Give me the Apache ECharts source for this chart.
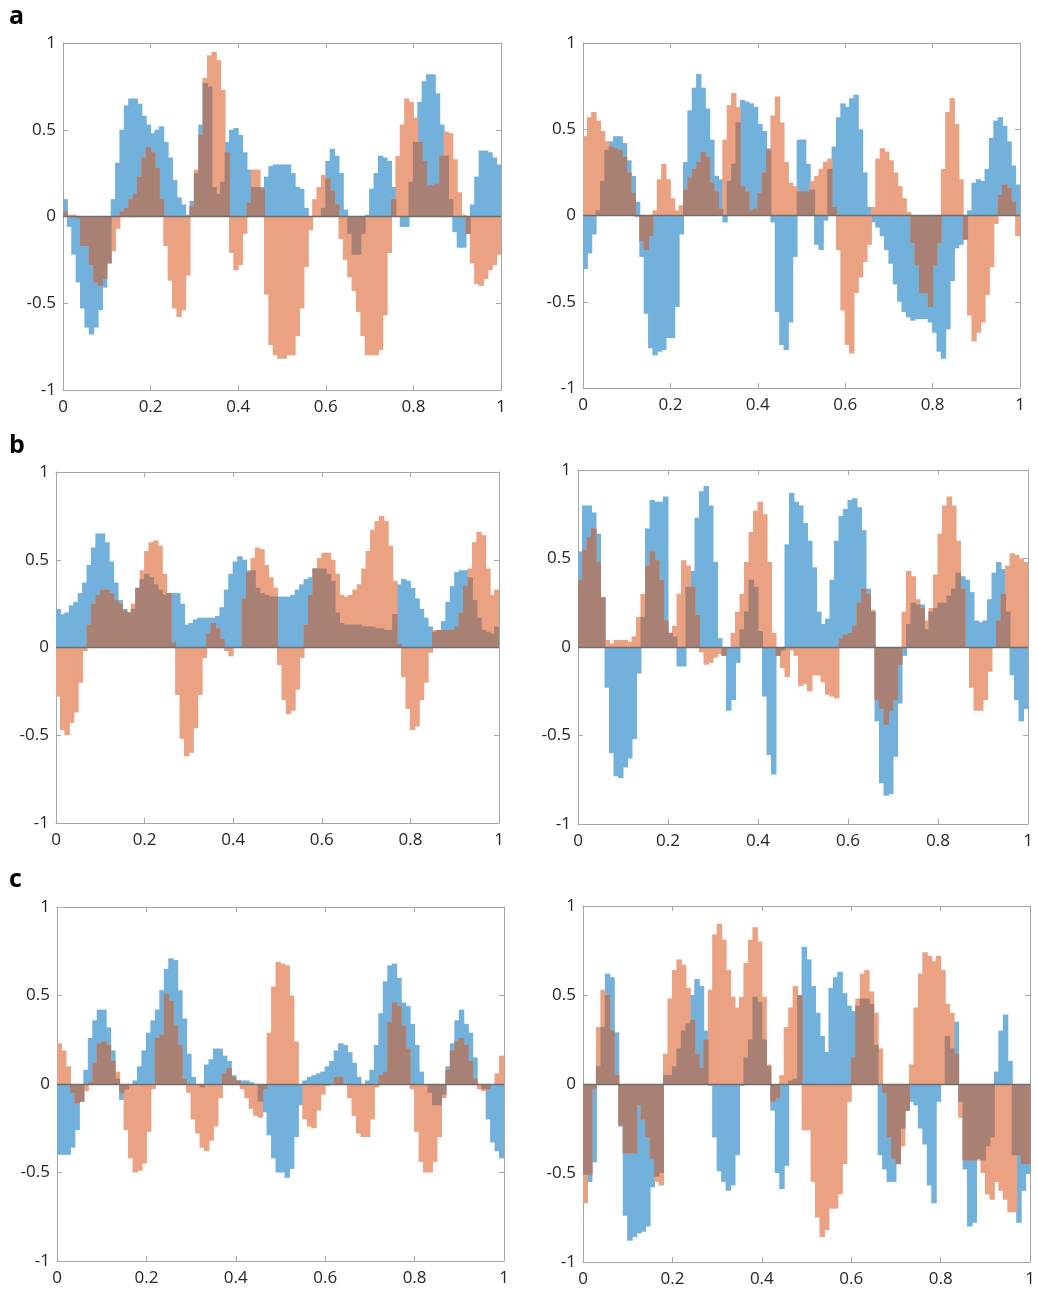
<!DOCTYPE html>
<html>
<head>
<meta charset="utf-8">
<script src="https://cdn.jsdelivr.net/npm/echarts@6/dist/echarts.min.js"></script>
<style>
html,body{margin:0;padding:0;background:#fff;}
#chart{width:1038px;height:1297px;}
</style>
</head>
<body>
<div id="chart"></div>
<script>
// ---------------- DATA ----------------
const binCount = 100;
const xTickLabels = ['0', '0.2', '0.4', '0.6', '0.8', '1'];
const yTickLabels = ['-1', '-0.5', '0', '0.5', '1'];
const panelLetters = ['a', 'b', 'c'];

const aLeftBlue = [0.10,-0.06,-0.22,-0.38,-0.53,-0.64,-0.68,-0.64,-0.54,-0.41,
-0.27,0.10,0.31,0.50,0.64,0.68,0.68,0.65,0.58,0.53,
0.48,0.50,0.52,0.43,0.34,0.21,0.11,0.07,0.01,0.09,
0.25,0.53,0.77,0.75,0.17,0.13,0.20,0.43,0.50,0.51,
0.47,0.37,0.27,0.17,0.17,0.17,0.23,0.29,0.30,0.30,
0.30,0.30,0.25,0.17,0.16,0.05,0.00,0.00,0.00,0.05,
0.32,0.39,0.35,0.25,0.04,-0.10,-0.22,-0.22,-0.10,0.01,
0.16,0.25,0.35,0.34,0.32,0.17,0.00,-0.06,-0.06,0.20,
0.43,0.66,0.78,0.82,0.82,0.71,0.53,0.35,0.10,-0.09,
-0.18,-0.18,-0.10,0.07,0.23,0.38,0.38,0.37,0.34,0.30];
const aLeftOrange = [0.03,0.01,0.01,-0.01,-0.17,-0.17,-0.28,-0.38,-0.40,-0.36,
-0.27,-0.20,-0.07,0.03,0.05,0.10,0.13,0.23,0.34,0.40,
0.37,0.28,0.10,-0.17,-0.37,-0.53,-0.58,-0.54,-0.34,0.06,
0.27,0.47,0.80,0.93,0.95,0.90,0.73,0.37,-0.21,-0.31,
-0.28,-0.10,0.08,0.27,0.27,0.16,-0.45,-0.74,-0.80,-0.82,
-0.82,-0.80,-0.80,-0.69,-0.53,-0.29,-0.08,0.10,0.17,0.24,
0.22,0.15,0.07,-0.13,-0.25,-0.35,-0.43,-0.55,-0.69,-0.80,
-0.80,-0.80,-0.77,-0.57,-0.21,0.10,0.35,0.53,0.68,0.66,
0.57,0.43,0.32,0.18,0.18,0.19,0.35,0.49,0.48,0.33,
0.14,0.01,-0.10,-0.27,-0.39,-0.40,-0.36,-0.31,-0.28,-0.22];

const aRightBlue = [-0.31,-0.22,-0.11,0.03,0.20,0.38,0.43,0.46,0.46,0.42,
0.32,0.23,0.08,-0.24,-0.57,-0.77,-0.81,-0.79,-0.78,-0.71,
-0.71,-0.53,-0.11,0.31,0.61,0.74,0.82,0.74,0.62,0.44,
0.23,0.21,-0.04,0.20,0.30,0.54,0.67,0.66,0.65,0.63,
0.53,0.49,0.39,-0.04,-0.56,-0.75,-0.78,-0.62,-0.24,0.44,
0.44,0.30,0.15,-0.17,-0.20,-0.03,0.27,0.40,0.57,0.65,
0.63,0.68,0.70,0.50,0.25,0.05,-0.04,-0.07,-0.12,-0.20,
-0.28,-0.40,-0.50,-0.56,-0.59,-0.61,-0.60,-0.60,-0.60,-0.62,
-0.68,-0.79,-0.83,-0.66,-0.38,-0.19,-0.17,-0.14,0.03,0.19,
0.21,0.20,0.27,0.45,0.55,0.57,0.52,0.43,0.29,0.18];
const aRightOrange = [0.46,0.57,0.60,0.55,0.49,0.43,0.40,0.39,0.38,0.34,
0.25,0.13,-0.01,-0.15,-0.20,-0.12,0.03,0.21,0.30,0.21,
0.10,0.03,0.06,0.15,0.22,0.27,0.31,0.37,0.34,0.19,
0.14,0.04,0.44,0.64,0.71,0.63,0.17,0.14,0.03,0.04,
0.13,0.25,0.38,0.58,0.69,0.54,0.31,0.19,0.17,0.14,
0.14,0.14,0.20,0.23,0.27,0.31,0.33,0.05,-0.20,-0.55,
-0.75,-0.80,-0.45,-0.36,-0.27,-0.17,0.05,0.33,0.39,0.37,
0.32,0.25,0.17,0.10,0.02,-0.16,-0.29,-0.45,-0.45,-0.53,
-0.29,-0.16,0.27,0.60,0.68,0.53,0.21,-0.14,-0.58,-0.73,
-0.68,-0.62,-0.46,-0.30,-0.05,0.12,0.18,0.16,0.08,-0.12];

const bLeftBlue = [0.22,0.19,0.20,0.24,0.26,0.31,0.37,0.47,0.57,0.65,
0.65,0.60,0.49,0.37,0.27,0.22,0.20,0.22,0.34,0.39,
0.42,0.40,0.36,0.33,0.30,0.31,0.31,0.31,0.25,0.13,
0.14,0.16,0.17,0.17,0.17,0.17,0.18,0.23,0.33,0.42,
0.49,0.52,0.50,0.44,0.44,0.34,0.31,0.30,0.29,0.29,
0.29,0.29,0.29,0.30,0.33,0.36,0.39,0.40,0.45,0.45,
0.45,0.42,0.38,0.20,0.14,0.13,0.13,0.13,0.13,0.12,
0.12,0.12,0.11,0.11,0.10,0.10,0.19,0.36,0.39,0.38,
0.34,0.28,0.22,0.17,0.12,0.09,0.10,0.15,0.26,0.35,
0.43,0.44,0.44,0.40,0.27,0.17,0.10,0.09,0.08,0.12];
const bLeftOrange = [-0.28,-0.47,-0.50,-0.43,-0.37,-0.20,-0.02,0.13,0.25,0.30,
0.33,0.33,0.31,0.27,0.25,0.21,0.20,0.25,0.34,0.44,
0.55,0.60,0.61,0.58,0.42,0.31,0.03,-0.27,-0.52,-0.62,
-0.60,-0.46,-0.27,-0.06,0.08,0.14,0.11,0.05,-0.02,-0.05,
0.00,0.00,0.28,0.43,0.51,0.57,0.56,0.47,0.40,0.34,
-0.10,-0.30,-0.38,-0.36,-0.24,-0.06,0.13,0.30,0.45,0.51,
0.54,0.54,0.50,0.42,0.30,0.29,0.30,0.33,0.36,0.45,
0.55,0.67,0.72,0.75,0.72,0.58,0.38,0.02,-0.17,-0.35,
-0.47,-0.45,-0.30,-0.20,-0.03,0.10,0.10,0.10,0.10,0.10,
0.12,0.20,0.35,0.45,0.60,0.66,0.64,0.45,0.30,0.33];

const bRightBlue = [0.54,0.80,0.80,0.76,0.64,0.28,-0.23,-0.60,-0.73,-0.74,
-0.68,-0.63,-0.52,-0.15,0.17,0.67,0.83,0.82,0.82,0.85,
0.08,0.06,-0.11,-0.11,0.34,0.43,0.73,0.88,0.91,0.80,
0.48,0.05,-0.05,-0.36,-0.30,-0.09,0.10,0.20,0.38,0.34,
0.09,-0.28,-0.61,-0.72,-0.05,-0.02,0.58,0.87,0.82,0.80,
0.70,0.60,0.45,0.20,0.13,0.16,0.38,0.60,0.74,0.78,
0.83,0.84,0.79,0.66,0.33,0.20,-0.42,-0.77,-0.84,-0.83,
-0.62,-0.32,-0.05,0.13,0.25,0.24,0.24,0.10,0.20,0.22,
0.25,0.25,0.29,0.33,0.42,0.40,0.38,0.31,0.15,0.14,
0.15,0.27,0.42,0.48,0.44,0.20,-0.16,-0.30,-0.42,-0.35];
const bRightOrange = [0.38,0.55,0.62,0.67,0.48,0.28,0.04,0.02,0.04,0.04,
0.04,0.03,0.06,0.17,0.30,0.46,0.54,0.49,0.38,0.15,
0.08,0.12,0.30,0.49,0.46,0.34,0.18,-0.03,-0.10,-0.09,
-0.06,-0.04,-0.05,0.00,0.08,0.20,0.30,0.48,0.65,0.77,
0.82,0.75,0.48,0.08,-0.05,-0.12,-0.17,-0.02,-0.05,-0.22,
-0.21,-0.25,-0.16,-0.16,-0.20,-0.27,-0.28,-0.29,0.05,0.07,
0.08,0.12,0.25,0.33,0.30,0.21,-0.30,-0.35,-0.44,-0.36,
-0.30,-0.10,0.20,0.43,0.40,0.27,0.22,0.15,0.22,0.41,
0.64,0.80,0.85,0.80,0.60,0.33,0.00,-0.23,-0.36,-0.36,
-0.30,-0.14,0.00,0.15,0.30,0.46,0.53,0.52,0.50,0.48];

const cLeftBlue = [-0.40,-0.40,-0.40,-0.36,-0.26,-0.10,0.08,0.26,0.36,0.42,
0.42,0.32,0.19,0.03,-0.09,-0.03,0.00,0.02,0.10,0.19,
0.29,0.36,0.42,0.53,0.65,0.71,0.70,0.53,0.37,0.17,
0.04,0.00,-0.02,0.11,0.14,0.20,0.20,0.16,0.13,0.05,
0.02,0.02,0.02,0.01,0.00,-0.10,-0.16,-0.29,-0.42,-0.50,
-0.50,-0.53,-0.48,-0.30,-0.12,0.02,0.04,0.05,0.06,0.07,
0.10,0.13,0.19,0.23,0.22,0.18,0.12,0.04,0.00,0.02,
0.08,0.22,0.40,0.58,0.67,0.68,0.60,0.46,0.44,0.34,
0.22,0.07,0.00,-0.05,-0.12,-0.12,-0.06,0.10,0.23,0.36,
0.42,0.34,0.29,0.15,0.00,-0.03,-0.20,-0.33,-0.38,-0.42];
const cLeftOrange = [0.23,0.19,0.10,-0.05,-0.11,-0.10,-0.04,0.01,0.12,0.23,
0.24,0.22,0.13,0.07,-0.05,-0.26,-0.42,-0.50,-0.49,-0.45,
-0.27,-0.03,0.26,0.28,0.51,0.47,0.33,0.22,0.03,-0.05,
-0.20,-0.28,-0.36,-0.38,-0.32,-0.24,-0.08,0.06,0.09,0.04,
0.02,-0.03,-0.08,-0.14,-0.18,-0.19,-0.03,0.29,0.55,0.69,
0.68,0.67,0.50,0.24,0.00,-0.20,-0.24,-0.25,-0.15,-0.06,
-0.01,0.00,0.04,0.04,0.00,-0.08,-0.18,-0.28,-0.30,-0.30,
-0.20,-0.02,0.05,0.07,0.35,0.46,0.44,0.33,0.20,-0.03,
-0.27,-0.44,-0.50,-0.50,-0.44,-0.30,-0.08,0.08,0.19,0.24,
0.26,0.22,0.13,0.03,-0.03,-0.04,-0.03,0.00,0.06,0.16];

const cRightBlue = [-0.51,-0.55,-0.44,0.10,0.32,0.62,0.60,0.29,-0.24,-0.74,
-0.88,-0.86,-0.84,-0.83,-0.80,-0.58,-0.52,-0.50,0.05,0.05,
0.10,0.20,0.30,0.34,0.50,0.59,0.55,0.30,-0.01,-0.30,
-0.49,-0.55,-0.60,-0.57,-0.40,-0.01,0.15,0.25,0.49,0.46,
0.25,0.10,-0.15,-0.50,-0.59,-0.46,0.02,0.03,0.50,0.77,
0.70,0.55,0.40,0.27,0.18,0.54,0.60,0.63,0.51,0.44,
0.41,0.44,0.48,0.48,0.45,0.22,-0.40,-0.48,-0.55,-0.55,
-0.45,-0.25,-0.15,-0.10,-0.12,-0.25,-0.34,-0.57,-0.67,-0.10,
0.00,0.27,0.20,0.35,-0.10,-0.48,-0.80,-0.78,-0.42,-0.43,
-0.35,-0.30,0.07,0.30,0.39,0.13,-0.40,-0.78,-0.60,-0.50];
const cRightOrange = [-0.67,-0.51,-0.03,0.32,0.53,0.50,0.30,0.05,-0.23,-0.39,
-0.39,-0.39,-0.12,-0.20,-0.30,-0.42,-0.55,-0.57,0.17,0.48,
0.64,0.70,0.67,0.54,0.36,0.17,0.09,0.25,0.53,0.84,
0.90,0.81,0.64,0.49,0.43,0.49,0.68,0.81,0.88,0.80,
0.49,0.11,-0.10,-0.08,0.05,0.32,0.43,0.55,0.50,-0.26,
-0.26,-0.55,-0.75,-0.86,-0.82,-0.70,-0.70,-0.62,-0.45,-0.10,
0.15,0.48,0.62,0.64,0.52,0.40,0.20,-0.05,-0.30,-0.42,
-0.45,-0.35,-0.15,0.11,0.43,0.62,0.74,0.72,0.69,0.72,
0.64,0.45,0.40,0.17,-0.19,-0.43,-0.43,-0.43,-0.43,-0.50,
-0.62,-0.65,-0.55,-0.60,-0.65,-0.72,-0.72,-0.40,-0.45,-0.45];

// ---------------- LAYOUT / STYLE ----------------
const panels = [
  {blue: aLeftBlue,  orange: aLeftOrange,  grid: {left: 63,  top: 43,  width: 438, height: 347}},
  {blue: aRightBlue, orange: aRightOrange, grid: {left: 583, top: 43,  width: 437, height: 345}},
  {blue: bLeftBlue,  orange: bLeftOrange,  grid: {left: 56,  top: 472, width: 443, height: 351}},
  {blue: bRightBlue, orange: bRightOrange, grid: {left: 578, top: 470, width: 450, height: 354}},
  {blue: cLeftBlue,  orange: cLeftOrange,  grid: {left: 57,  top: 907, width: 447, height: 354}},
  {blue: cRightBlue, orange: cRightOrange, grid: {left: 583, top: 906, width: 452, height: 356}}
];
const BLUE = '#72B1DB', ORANGE = '#EAA282', BROWN = '#A98174';
const AXIS = '#a6a6a6', LABEL = '#262626', FONT = 'Open Sans, Liberation Sans, sans-serif';

const bins = [];
for (let i = 0; i < binCount; i++) bins.push(String(i));

function overlap(b, o) {
  return b.map((v, i) => {
    const w = o[i];
    if (v > 0 && w > 0) return Math.min(v, w);
    if (v < 0 && w < 0) return Math.max(v, w);
    return 0;
  });
}

// one histogram bar per bin, positioned by the category / value scales
function barRenderer(color) {
  return function (params, api) {
    const v = api.value(1);
    if (!v) return null;
    const c = api.value(0);
    const p0 = api.coord([c, 0]);
    const p1 = api.coord([c, v]);
    const w = api.size([1, 0])[0];
    return {
      type: 'rect',
      shape: {x: p0[0] - w / 2 - 0.5, y: Math.min(p0[1], p1[1]), width: w + 1, height: Math.abs(p1[1] - p0[1])},
      style: {fill: color}
    };
  };
}

const grid = [], xAxis = [], yAxis = [], series = [];
panels.forEach((p, k) => {
  grid.push(Object.assign({containLabel: false}, p.grid));
  const ls = {color: AXIS, width: 1};
  xAxis.push({type: 'category', gridIndex: k, data: bins, boundaryGap: true, position: 'bottom',
    show: false});
  xAxis.push({type: 'value', gridIndex: k, min: 0, max: 1, interval: 0.2, position: 'bottom',
    axisLine: {show: true, onZero: false, lineStyle: ls},
    axisTick: {show: true, inside: true, length: 5, lineStyle: ls},
    axisLabel: {show: true, margin: 9, color: LABEL, fontSize: 17, fontFamily: FONT,
      formatter: v => xTickLabels[Math.round(v * 5)]},
    splitLine: {show: false}});
  xAxis.push({type: 'value', gridIndex: k, min: 0, max: 1, interval: 0.2, position: 'top',
    axisLine: {show: true, onZero: false, lineStyle: ls},
    axisTick: {show: true, inside: true, length: 5, lineStyle: ls},
    axisLabel: {show: false}, splitLine: {show: false}});
  yAxis.push({type: 'value', gridIndex: k, min: -1, max: 1, interval: 0.5, position: 'left',
    axisLine: {show: true, onZero: false, lineStyle: ls},
    axisTick: {show: true, inside: true, length: 5, lineStyle: ls},
    axisLabel: {show: true, margin: 7, color: LABEL, fontSize: 17, fontFamily: FONT,
      formatter: v => yTickLabels[Math.round(v * 2 + 2)]},
    splitLine: {show: false}});
  yAxis.push({type: 'value', gridIndex: k, min: -1, max: 1, interval: 0.5, position: 'right',
    axisLine: {show: true, onZero: false, lineStyle: ls},
    axisTick: {show: true, inside: true, length: 5, lineStyle: ls},
    axisLabel: {show: false}, splitLine: {show: false}});

  const common = {type: 'custom', xAxisIndex: 3 * k, yAxisIndex: 2 * k, clip: true,
    silent: true, animation: false, encode: {x: 0, y: 1}};
  const toPairs = arr => arr.map((v, i) => [i, v]);
  series.push(Object.assign({}, common, {name: 'blue' + k, data: toPairs(p.blue), renderItem: barRenderer(BLUE)}));
  series.push(Object.assign({}, common, {name: 'orange' + k, data: toPairs(p.orange), renderItem: barRenderer(ORANGE)}));
  series.push(Object.assign({}, common, {name: 'both' + k, data: toPairs(overlap(p.blue, p.orange)),
    renderItem: barRenderer(BROWN)}));
  // zero baseline
  series.push({type: 'bar', xAxisIndex: 3 * k, yAxisIndex: 2 * k, data: [], silent: true, animation: false,
    markLine: {silent: true, symbol: 'none', label: {show: false}, animation: false,
      lineStyle: {color: '#6e6e6e', width: 1.4, type: 'solid'}, data: [{yAxis: 0}]}});
});

const letterTops = [4, 433, 867];
const graphic = panelLetters.map((t, i) => ({
  type: 'text', left: 9, top: letterTops[i],
  style: {text: t, fontSize: 25, fontWeight: 'bold', fill: '#000', fontFamily: FONT}
}));

const chart = echarts.init(document.getElementById('chart'), null, {renderer: 'canvas'});
chart.setOption({
  animation: false,
  backgroundColor: '#ffffff',
  grid, xAxis, yAxis, series, graphic
});
</script>
</body>
</html>
